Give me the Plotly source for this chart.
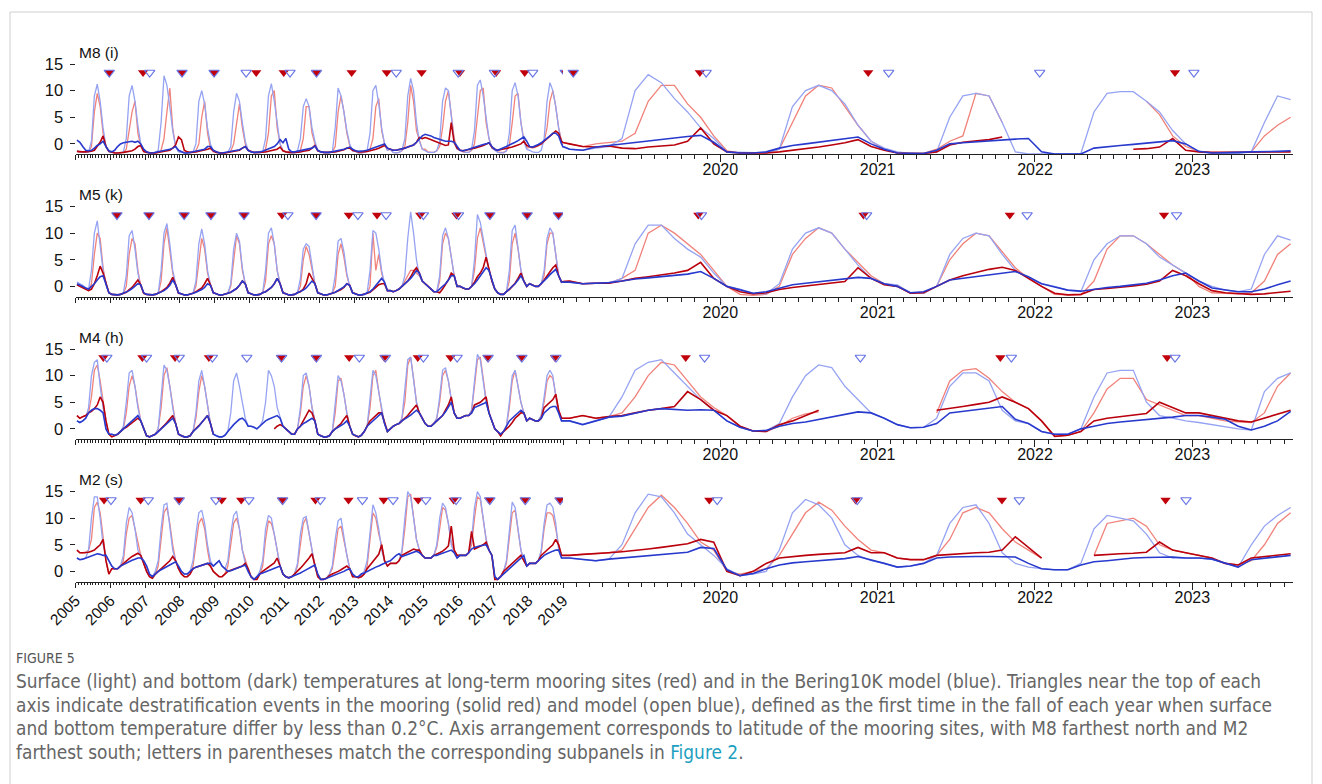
import plotly.graph_objects as go

W, H = 1322, 784
N = None

# ---------------- time axis (monthly, mid-month, Jan 2005 .. Aug 2023) ----------------
months = [2005 + (i + 0.5) / 12 for i in range(224)]

# ---------------- M8 (i) ----------------
m8_mooring_surface = [
    [-1.4,-1.6,-1.6,-1.6,-1.5,-0.5,6,9.5,7,2,-0.5,-1.4],
    [-1.6,-1.7,-1.7,-1.7,-1.6,-1,3,6,8,2,-0.5,-1.5],
    [-1.6,-1.7,-1.7,-1.7,-1.6,-1.2,1,6,10.5,3,-0.5,-1.4],
    [-1.5,-1.7,-1.7,-1.7,-1.6,-1.3,0,5,8,2,-0.8,-1.5],
    [-1.6,-1.7,-1.7,-1.7,-1.6,-1.4,0,4,7.5,3,0,-1.3],
    [-1.5,-1.7,-1.7,-1.7,-1.6,-1,2,9,10,3,0,-1.3],
    [-1.5,-1.7,-1.7,-1.7,-1.6,-1.2,1,7,7,2,0,-1.3],
    [-1.5,-1.7,-1.7,-1.7,-1.5,-0.5,6,9,6,2,-0.3,-1.3],
    [-1.4,-1.7,-1.7,-1.6,-1.4,-1,1,7,8.5,2.5,0,-1.2],
    [-1,-1.6,-1.7,-1.6,-1.3,-0.5,4,11,8,2.5,0.5,-1],
    [-1,-1.5,-1.6,-1.6,-1.3,-0.5,3,8,10,6,1,-0.8],
    [-1.1,-1.5,-1.6,-1.6,-1.2,0,5,10,10.5,4,1,-0.8],
    [-1,-1.5,-1.6,-1.6,-1.3,-0.3,4,9,9.5,4,0.8,-0.8],
    [-0.6,-0.8,-0.6,-0.4,0,0.5,3,8,10,7,3,0.5],
    [0,-0.5,0,0.3,0.5,2,8,11,11,7.5,5,1.5],
    [-1.3,-1.7,-1.7,-1.7,-1,4,9,11,10.5,7,3.5,0.5],
    [-1,-1.7,-1.8,-1.8,-1,0.5,1.5,9.5,9,4,N,N],
    [N,N,N,N,N,N,N,N,8,5.5,1.5,-0.5],
    [-1.4,-1.7,-1.7,-1.7,-1.5,1.5,3.5,5],
]
m8_mooring_bottom = [
    [-1.4,-1.5,-1.5,-1.5,-1.5,-1.4,-1.2,-0.5,0.3,1.5,-0.5,-1.4],
    [-1.6,-1.7,-1.7,-1.7,-1.6,-1.5,-1.4,-1.3,-1,-0.5,-0.3,-1.4],
    [-1.6,-1.7,-1.7,-1.7,-1.6,-1.5,-1.4,-1.3,-1.2,-0.8,-0.2,1.3],
    [0.8,-1.2,-1.5,-1.6,-1.6,-1.5,-1.4,-1.3,-1.2,-1,-0.8,-1.3],
    [-1.6,-1.7,-1.7,-1.7,-1.6,-1.5,-1.4,-1.3,-1.2,-0.8,-0.5,-1.2],
    [-1.4,-1.6,-1.6,-1.6,-1.6,-1.5,-1.4,-1.3,-1.2,-1,-0.6,-1.3],
    [-1.5,-1.6,-1.6,-1.6,-1.6,-1.5,-1.4,-1.3,-1.2,-0.8,-0.3,-1.3],
    [-1.5,-1.6,-1.6,-1.6,-1.6,-1.5,-1.4,-1.3,-1.1,-0.8,-0.8,-1.2],
    [-1.4,-1.5,-1.5,-1.5,-1.4,-1.3,-1.2,-1,-0.8,-0.6,-0.3,-0.8],
    [-1,-1.2,-1.2,-1.1,-1,-0.8,-0.6,-0.4,-0.2,0.3,1.2,1],
    [1.2,1,0.8,0.5,0.3,0.1,-0.1,-0.3,-0.2,4,0.2,-0.8],
    [-1.2,-1.3,-1.2,-1,-0.9,-0.8,-0.7,-0.5,-0.3,-0.1,0.2,-0.6],
    [-1,-1.2,-1.1,-1,-0.9,-0.7,-0.6,-0.4,-0.2,0,0.5,-0.3],
    [-0.5,-0.6,-0.5,-0.3,0,0.5,1,1.5,2,2.4,2,0.5],
    [0,-0.5,-0.6,-0.4,-0.8,-0.9,-0.6,-0.4,-0.2,0.5,3,0],
    [-1.5,-1.7,-1.7,-1.7,-1.5,-1.2,-1,-0.6,-0.2,0.2,0.8,-0.5],
    [-1.2,-1.7,-1.8,-1.8,-1.5,-0.2,0.3,0.6,0.8,1.3,N,N],
    [N,N,N,N,N,N,N,-1,-0.9,-0.6,1,-1.2],
    [-1.5,-1.6,-1.6,-1.6,-1.6,-1.5,-1.5,-1.5],
]
m8_model_surface = [
    [-1.2,-1.5,-1.6,-1.6,-1.5,0.5,9,11.2,8,3,-0.5,-1.5],
    [-1.6,-1.7,-1.7,-1.7,-1.5,1,9,11,8,3.5,0,-1.3],
    [-1.5,-1.7,-1.7,-1.6,-1.2,4,12.8,11,7,2.5,-0.5,-1.5],
    [-1.6,-1.7,-1.7,-1.7,-1.5,0,8,10,7.5,3,0,-1.4],
    [-1.6,-1.7,-1.7,-1.7,-1.6,-0.5,6,9.5,8,4,0.5,-1.2],
    [-1.5,-1.7,-1.7,-1.7,-1.5,1,9,11.3,8,3.5,0,-1.3],
    [-1.5,-1.7,-1.7,-1.7,-1.3,1,7,8.5,7,3,0.5,-1.3],
    [-1.5,-1.7,-1.7,-1.7,-1.5,3,10.5,9,6,2.5,0,-1.3],
    [-1.4,-1.7,-1.7,-1.6,-1.2,2,10,11,7.5,3,0,-1.2],
    [-1,-1.6,-1.7,-1.6,-1.2,1,9,12.3,10,4,0.5,-1],
    [-1.3,-1.6,-1.6,-1.6,-1.3,0.5,8,10.5,10,5,0.5,-1],
    [-1.2,-1.5,-1.6,-1.6,-1,2.5,11,12,9,5,1,-0.8],
    [-1.2,-1.6,-1.7,-1.7,-1.3,2,10,11.5,9,4,0.5,-1],
    [-1.2,-1.5,-1.6,-1.6,-1.2,1,8,11.5,10,7,3,0],
    [-1,-1.2,-0.8,-0.5,1,10,13,11.5,8.5,6,3,1],
    [-1.5,-1.6,-1.7,-1.7,-1,7,10,11,10,7.5,3.5,0.5],
    [-0.8,-1.5,-1.8,-1.8,-1.5,5,9,9.5,9,4,-1.5,-1.9],
    [-1.9,-1.9,-1.9,-1.8,6,9.5,9.8,9.8,8,6,2.5,0],
    [-1.5,-1.8,-1.8,-1.8,-1.5,4,9,8.3],
]
m8_model_bottom = [
    [0.7,0.3,-0.5,-1.2,-1.3,-1.2,-0.8,-0.3,0,0.5,-0.5,-1.3],
    [-1.5,-1.2,-0.5,0,0.2,0.3,0.4,0.5,0.3,0.5,0,-1],
    [-1.5,-1.7,-1.7,-1.6,-1.5,-1.3,-1.2,-1.1,-1,-0.8,-0.5,-1.2],
    [-1.5,-1.7,-1.7,-1.6,-1.5,-1.4,-1.3,-1.2,-1,-0.5,-0.5,-1.2],
    [-1.5,-1.7,-1.7,-1.6,-1.5,-1.4,-1.3,-1.2,-1.1,-0.8,-0.5,-1.2],
    [-1.5,-1.6,-1.6,-1.5,-1.4,-1.2,-1,-0.8,-0.5,0,0.8,0.2],
    [1,-1,-1.5,-1.5,-1.4,-1.3,-1.2,-1.1,-1,-0.8,-0.4,-1.2],
    [-1.5,-1.6,-1.6,-1.6,-1.5,-1.3,-1.2,-1.1,-1,-0.8,-0.6,-1],
    [-1.3,-1.4,-1.4,-1.3,-1.2,-1,-0.8,-0.6,-0.4,-0.2,0,-0.8],
    [-1,-1.2,-1.2,-1.1,-1,-0.8,-0.6,-0.4,-0.2,0.3,1,1.5],
    [1.8,1.7,1.5,1.2,1,0.8,0.6,0.5,0.5,0.5,0.3,-0.5],
    [-1.2,-1.3,-1.2,-1,-0.8,-0.6,-0.5,-0.3,-0.1,0,0.2,-0.5],
    [-1,-1.2,-1,-0.8,-0.5,-0.2,0,0.3,0.6,1,1.3,0.5],
    [-0.5,-0.6,-0.4,-0.1,0.2,0.6,1,1.5,2,2,1.5,0],
    [-1,-1.2,-0.6,-0.3,0,0.3,0.5,0.8,1.1,1.4,1.6,0.3],
    [-1.5,-1.7,-1.7,-1.5,-0.8,-0.3,0,0.3,0.6,0.9,1.3,0],
    [-1,-1.7,-1.8,-1.8,-1.2,0,0.2,0.4,0.6,0.8,0.9,1],
    [-1.5,-1.9,-1.9,-1.9,-0.8,-0.5,-0.3,-0.1,0.1,0.3,0.6,0],
    [-1.4,-1.7,-1.7,-1.6,-1.5,-1.5,-1.4,-1.3],
]
m8_mooring_destrat = [2005.97, 2006.94, 2008.06, 2008.98, 2010.19, 2010.98, 2011.92, 2012.93,
                      2013.94, 2014.94, 2016.04, 2017.08, 2017.90, 2019.065, 2019.87, 2020.94, 2022.89]
m8_model_destrat = [2005.97, 2007.13, 2008.06, 2008.98, 2009.90, 2011.16, 2011.92, 2014.21,
                    2015.99, 2017.03, 2018.13, 2019.065, 2019.91, 2021.07, 2022.03, 2023.01]

# ---------------- M5 (k) ----------------
m5_mooring_surface = [
    [0.3,0,-0.2,-0.5,-0.8,0.5,6,10,9,3.5,0.5,-1.2],
    [-1.5,-1.6,-1.6,-1.5,-1.3,0,6,9,8,3,0,-1.3],
    [-1.5,-1.6,-1.6,-1.5,-1.3,1,8,11,7,2.5,0.3,-1.3],
    [-1.4,-1.6,-1.6,-1.5,-1.3,0,5,9,7,2.5,0.3,-1.2],
    [-1.4,-1.6,-1.6,-1.5,-1.3,0,5,9.5,8,3,0.5,-1.2],
    [-1.4,-1.6,-1.6,-1.5,-1.2,1,8,9.5,8,3,0.5,-1.2],
    [-1.4,-1.6,-1.6,-1.5,-1.2,0,5,7.5,6,3.5,0.5,-1.2],
    [-1.4,-1.6,-1.6,-1.5,-1.2,0,6,8,5.5,2,0,-1.2],
    [-1.4,-1.6,-1.6,-1.5,-1.3,0,10,3,6,2.5,0.5,-0.8],
    [-0.8,-1,-0.8,-0.5,0,1,2,3,3,2.5,2,1],
    [0.5,0,-0.5,-1,-1,1,8,10,9,5,2,0],
    [0,-0.3,-0.5,-0.5,0,3,9,11,8,5.5,3,1],
    [-0.5,-1.2,-1.5,-1.5,-1,1,8,10,7,3,1,0],
    [0.5,0.3,0,0,0.5,2,8,10,10,6,2,0.8],
    [1,0.5,0.6,0.6,1.5,3,10,11.5,10,8,6,3],
    [0,-1.5,-1.7,-1.5,0,6,9,11,10,7,4.5,2],
    [0.5,0,-1.3,-1.3,0,5,8,10,9.5,6.5,3.5,1.5],
    [0,-1.5,-1.6,-1.6,1,7,9.5,9.5,8,6,4,2.5],
    [0,-1.2,-1.3,-1.4,-1.2,1,6,8],
]
m5_mooring_bottom = [
    [0.3,0,-0.2,-0.5,-0.8,-0.5,0.5,2,3.8,2.5,0.5,-1.2],
    [-1.5,-1.6,-1.6,-1.5,-1.3,-1.1,-0.6,-0.2,0.5,1.2,0.3,-1.3],
    [-1.5,-1.6,-1.6,-1.5,-1.3,-1,-0.6,-0.2,0.6,1.7,0.3,-1.3],
    [-1.4,-1.6,-1.6,-1.5,-1.3,-1,-0.7,-0.3,0.5,1.5,0.3,-1.2],
    [-1.4,-1.6,-1.6,-1.5,-1.3,-1.1,-0.8,-0.4,0.2,1,0.5,-1.2],
    [-1.4,-1.6,-1.6,-1.5,-1.2,-1,-0.6,-0.2,0.5,1.5,0.5,-1.2],
    [-1.4,-1.6,-1.6,-1.5,-1.2,-1,-0.5,0.5,2.5,1.5,0.5,-1.2],
    [-1.4,-1.6,-1.6,-1.5,-1.3,-1.1,-0.9,-0.6,-0.2,0.5,0.2,-1.2],
    [-1.4,-1.6,-1.6,-1.5,-1.3,-1.1,-0.7,-0.2,0.3,0.5,0.5,-0.8],
    [-0.8,-1,-0.8,-0.5,0,0.5,1,1.8,2.8,3.5,2.5,1],
    [0.5,0,-0.5,-1,-1,-1.2,-0.5,0.3,1.2,2.5,2,0],
    [0,-0.3,-0.5,-0.5,0,0.8,1.8,2.5,3.5,5.5,3,1],
    [-0.5,-1.2,-1.5,-1.5,-1,-0.6,0,0.6,1.5,2.5,1,0],
    [0.5,0.3,0,0,0.5,1.2,2,2.8,3.5,4,2,0.8],
    [1,0.5,0.6,0.6,1,1.5,1.8,2.1,2.5,3,4.5,1.5],
    [0,-1,-1.4,-1.2,-0.6,-0.2,0.1,0.4,0.6,0.9,3.5,1.5],
    [0.3,0,-1.3,-1.2,0,1.2,2,2.6,3.2,3.6,3,1.5],
    [0,-1.3,-1.6,-1.5,-0.6,-0.4,-0.2,0.1,0.4,1,3,2],
    [0.5,-0.8,-1.2,-1.4,-1.5,-1.4,-1.2,-0.9],
]
m5_model_surface = [
    [0.8,0.5,0.2,-0.3,-0.5,3,10,12.3,8,3,0.5,-1.2],
    [-1.5,-1.6,-1.6,-1.5,-1.2,2,9.5,10.5,7,2.5,0,-1.3],
    [-1.5,-1.6,-1.6,-1.5,-1.3,3,10,11.8,8,3,0.5,-1.2],
    [-1.4,-1.6,-1.6,-1.5,-1.3,1,8,10.8,8,3,0.3,-1.2],
    [-1.4,-1.6,-1.6,-1.5,-1.3,0.5,7,10,8.5,3.5,0.5,-1.2],
    [-1.4,-1.6,-1.6,-1.5,-1.2,3,10,11,8,3,0.5,-1.2],
    [-1.4,-1.6,-1.6,-1.5,-1.2,1.5,7,8,7.5,4,0.5,-1.2],
    [-1.4,-1.6,-1.6,-1.5,-1.2,2,8.5,9,6.5,2.5,0,-1.2],
    [-1.4,-1.6,-1.6,-1.5,-1.2,3,10.5,10,7,3,0.5,-0.8],
    [-0.8,-1,-0.8,-0.5,0,2,9,14,10,5,2,1],
    [0.5,0,-0.5,-1,-1,2,9.5,11,9,5,2,0],
    [0,-0.3,-0.5,-0.5,0,5,13.5,12,9,6,3,1],
    [-0.5,-1.2,-1.5,-1.5,-1,3,10.5,11.5,7,3,1,0],
    [0.5,0.3,0,0,0.5,3,9,11,10,6,2,0.8],
    [0.8,0.5,0.7,0.6,1.5,8,11.5,11.5,9,7,5.5,2.5],
    [0,-0.5,-1.3,-1.4,0.5,7,10,11,10,7,4,1.5],
    [0.5,0.3,-1.2,-1.3,0,6,9,10,9.5,6,3,1.5],
    [0.5,0,-0.7,-1,5,8,9.5,9.5,8,5.5,4,2.5],
    [1,0,-0.7,-1,-0.5,6,9.5,8.7],
]
m5_model_bottom = [
    [0.5,0.3,0,-0.3,-0.5,0,0.5,1.2,1.8,2,0.5,-1.2],
    [-1.5,-1.6,-1.6,-1.5,-1.3,-1.1,-0.8,-0.4,0,0.5,0.3,-1.2],
    [-1.5,-1.6,-1.6,-1.5,-1.3,-1.1,-0.8,-0.4,0.2,1.2,0.3,-1.2],
    [-1.4,-1.6,-1.6,-1.5,-1.3,-1.1,-0.9,-0.6,-0.2,0.5,0.2,-1.2],
    [-1.4,-1.6,-1.6,-1.5,-1.3,-1.1,-0.8,-0.4,0.2,1,0.5,-1.2],
    [-1.4,-1.6,-1.6,-1.5,-1.2,-1,-0.6,-0.2,0.5,1.5,0.5,-1.2],
    [-1.4,-1.6,-1.6,-1.5,-1.2,-1,-0.7,-0.3,0.3,1,0.5,-1.2],
    [-1.4,-1.6,-1.6,-1.5,-1.3,-1.1,-0.8,-0.5,-0.1,0.5,0.2,-1.2],
    [-1.4,-1.6,-1.6,-1.5,-1.2,-1,-0.5,0.2,0.8,1.5,0.8,-0.8],
    [-0.8,-1,-0.8,-0.5,0,0.5,1,1.5,2.2,3,2.5,1],
    [0.5,0,-0.5,-1,-1,-0.5,0,0.5,1.2,2,2,0],
    [0,-0.3,-0.5,-0.5,0,0.5,1.2,2,2.8,3.5,3,1],
    [-0.5,-1.2,-1.5,-1.5,-1,-0.5,0,0.5,1.2,2,1,0],
    [0.5,0.3,0,0,0.5,1,1.6,2.2,2.8,3.2,2,0.8],
    [0.8,0.5,0.6,0.7,1,1.4,1.6,1.8,2,2.3,2.8,1.5],
    [0,-0.7,-1.3,-1,-0.3,0.3,0.6,0.9,1.2,1.5,1.7,1.5],
    [0.5,0,-1.2,-1,0,1.2,1.5,1.8,2.1,2.5,2.8,1.8],
    [0.5,-0.1,-0.7,-0.9,-0.5,-0.2,0,0.3,0.6,1.2,2,2.5],
    [1,-0.3,-0.7,-1,-1,-0.5,0.3,1],
]
m5_mooring_destrat = [2006.19, 2007.11, 2008.12, 2008.89, 2009.84, 2010.93, 2011.91, 2012.85, 2013.66,
                      2014.90, 2015.94, 2016.90, 2017.97, 2018.87, 2019.86, 2020.91, 2021.84, 2022.82]
m5_model_destrat = [2006.19, 2007.11, 2008.12, 2008.89, 2009.84, 2011.10, 2011.91, 2013.11, 2013.92,
                    2014.99, 2016.00, 2016.90, 2017.97, 2018.87, 2019.88, 2020.93, 2021.95, 2022.90]

# ---------------- M4 (h) ----------------
m4_mooring_surface = [
    [2.5,2,2.3,2.5,3,6,11,12,9,5,1.5,-1],
    [-1.5,-1.3,-1,-0.5,0,3,8,10,8,4.5,1.5,0],
    [-1.3,-1.5,-1.3,-1,0,4,10,11.5,8,4,1,-1],
    [-1.3,-1.5,-1.5,-1.3,-0.5,2,7,10,8,4,1,-1],
    [N,N,N,N,N,N,N,N,N,N,N,N],
    [N,N,N,N,N,N,N,N,N,N,N,N],
    [0,-0.5,-1,-1,0,3,8,10,8,4,1.5,-1],
    [-1.3,-1.5,-1.5,-1.3,-0.5,3,9,9.5,6.5,3,0.5,-1],
    [-1.3,-1.5,-1.2,-0.5,0.5,4,10,11,7,3.5,1,-0.5],
    [0,0.5,0.8,1,2,5,12,13.5,9.5,5,3,2],
    [1,0.5,0.5,1,2,5,10,11,9,5.5,3,2],
    [2,2.3,2.5,2.5,3.5,8,13,13.5,9,5.5,3,1.5],
    [0,-0.5,-1.3,-0.5,0.5,4,9,11,8,5,3,1.5],
    [2,1.8,1.5,1.5,2.5,5,9,10,9.5,6.5,3.5,2],
    [2,2.5,2,2.3,3,6,10,12.5,12,9,6,4],
    [2.5,0.5,-0.4,-0.5,0.5,2,2.8,3.2,N,N,N,N],
    [N,N,N,N,3,9,11,11.3,9.5,7,5,3.8],
    [1.5,-1.4,-1.2,-0.5,3,7.5,9.5,9.5,5.5,4.5,3.5,2.5],
    [2.5,2,1.5,1.3,1.2,3,8,10.5],
]
m4_mooring_bottom = [
    [2.5,2,2.3,2.5,3,3.3,3.8,4.5,6,5,1.5,-1],
    [-1.5,-1.3,-1,-0.5,0,0.3,0.7,1.2,1.6,2,1.5,0],
    [-1.3,-1.5,-1.3,-1,-0.5,0,0.6,1.2,1.8,2.5,1,-1],
    [-1.3,-1.5,-1.5,-1.3,-0.5,0,0.6,1.2,1.8,2.5,1,-1],
    [N,N,N,N,N,N,N,N,N,N,N,N],
    [N,N,N,N,N,N,N,N,0,0.5,0.8,0.5],
    [0,-0.5,-1,-1,0,0.5,1.5,2.5,3.5,3,1.5,-1],
    [-1.3,-1.5,-1.5,-1.3,-0.5,0,0.5,1,1.8,2.5,0.5,-1],
    [-1.3,-1.5,-1.2,-0.5,0.5,1.5,2,2.5,3,3,1,-0.5],
    [0,0.5,0.8,1,1.5,2,2.5,3.2,3.8,4.5,3,2],
    [1,0.5,0.5,1,1.5,2,2.5,3.5,4.5,6,3,2],
    [2,2.3,2.5,2.5,3,4.5,4.8,5,5.5,6,3,1.5],
    [0,-0.5,-1.3,-0.5,0,0.5,1.2,2,2.5,3,3,1.5],
    [2,1.8,1.5,1.5,2,4,4.5,5,5.5,6.5,3.5,2],
    [2,2.5,2,2.3,2.5,3,3.5,3.8,4.2,7,5.5,3.5],
    [2.5,0.5,-0.4,-0.5,0.8,1.5,2.5,3.5,N,N,N,N],
    [N,N,N,N,3.5,3.8,4.2,4.6,5,6,5,3.8],
    [1.5,-1.4,-1.2,-0.5,1.5,2,2.3,2.6,2.9,5,4,3],
    [3,2.5,2,1.5,1.3,2,2.8,3.5],
]
m4_model_surface = [
    [1.5,1.2,1.5,2,4,10,12.5,13,8,4,0,-1],
    [-1,-1.2,-1,-0.5,0.5,5,10.5,11,8,4,1.5,0],
    [-1.3,-1.5,-1.3,-1,0,6,12,11,8,4,1,-1],
    [-1.3,-1.5,-1.5,-1.3,-0.5,3,9,11,8,4,1,-1],
    [-1.3,-1.5,-1.5,-1.2,-0.5,3,9,10.5,8,5,2,0.5],
    [0.5,0.3,0,0.5,1.5,5,11,10,8,4,2,0.5],
    [0,-0.5,-1,-1,0,4,10,10.5,8,4,1.5,-1],
    [-1.3,-1.5,-1.5,-1.3,-0.5,5,10,9,6.5,3,0.5,-1],
    [-1.3,-1.5,-1.2,-0.5,0.5,6,11,10,7,3.5,1,-0.5],
    [0,0.5,0.8,1,2,7,13,13.5,9,5,3,2],
    [1,0.5,0.5,1,2,6,11,11.5,9,5.5,3,2],
    [2,2.3,2.5,2.5,3.5,9,14,13,9,5,3,1.5],
    [0,-0.5,-1,-0.5,0.5,5,10,11,8,5,3,1.5],
    [2,1.8,1.5,1.5,2.5,6,10,11,10,6,3,1.5],
    [1.5,0.8,1.5,2.2,6,11,12.5,13,10.5,8,5.5,3.5],
    [1.5,0.3,-0.4,-0.3,1,6,10,12,11.5,8,5.5,3],
    [2,0.8,0.2,0.3,2,8,10.5,10.5,9,3.5,1.5,1],
    [-0.5,-1,-1,0,6,10.5,11,11,5,2.5,2,1.5],
    [1.2,0.8,0.5,0,-0.2,7,9.5,10.5],
]
m4_model_bottom = [
    [1.5,1.2,1.5,2,3,3.5,3.8,3.8,3.5,3,0,-1],
    [-1,-1.2,-1,-0.5,0,0.5,1,1.5,2,2.5,1.5,0],
    [-1.3,-1.5,-1.3,-1,-0.5,0,0.5,1,1.5,2,1,-1],
    [-1.3,-1.5,-1.5,-1.3,-0.5,0,0.5,1.2,1.8,2.5,1,-1],
    [-1.3,-1.5,-1.5,-1.2,-0.5,0.2,0.8,1.3,1.8,2,1.5,0.5],
    [0.5,0.3,0,0.5,1,1.5,1.8,2,2.3,2.5,2,0.5],
    [0,-0.5,-1,-1,0,0.5,1,1.3,1.6,2,1.5,-1],
    [-1.3,-1.5,-1.5,-1.3,-0.5,0,0.3,0.6,1,1.5,0.5,-1],
    [-1.3,-1.5,-1.2,-0.5,0.5,1,1.5,2,2.5,3,1,-0.5],
    [0,0.5,0.8,1,1.5,1.8,2.2,2.6,3,3.5,3,2],
    [1,0.5,0.5,1,1.5,2,2.5,3.2,4,5,3,2],
    [2,2.3,2.5,2.5,3,4,4.3,4.5,4.7,5,3,1.5],
    [0,-0.5,-1,-0.5,0.5,1.5,2,2.5,3,3.5,3,1.5],
    [2,1.8,1.5,1.5,2,3,3.5,4,4.2,4.2,3,1.5],
    [1.5,0.8,1.5,2.2,2.4,3,3.5,3.8,3.6,3.5,3.6,3.5],
    [1.5,0.3,-0.4,-0.3,0.5,1,1.3,1.8,2.2,2.7,3.2,3],
    [2,0.8,0.2,0.3,1,3,3.3,3.6,3.9,4.2,1.8,1],
    [-0.5,-1,-1,0,0.5,1,1.3,1.5,1.8,2,2.2,2.5],
    [2.5,2.2,1.8,0.5,-0.2,0.5,1.5,3.3],
]
m4_mooring_destrat = [2005.80, 2006.92, 2007.86, 2008.83, 2010.90, 2011.90, 2012.86, 2013.87,
                      2014.83, 2015.77, 2016.83, 2017.80, 2018.77, 2019.78, 2021.78, 2022.84]
m4_model_destrat = [2005.90, 2007.04, 2007.98, 2008.93, 2009.92, 2010.92, 2011.92, 2013.15, 2013.90,
                    2014.99, 2015.96, 2016.85, 2017.82, 2018.80, 2019.90, 2020.89, 2021.85, 2022.89]

# ---------------- M2 (s) ----------------
m2_mooring_surface = [
    [4,3.5,3.5,3.5,4,6,12,13,11,6,2,-0.5],
    [0.5,0.5,0.5,1,2,7,10,10.5,8,5,3,1.5],
    [0,-1,-1.3,-0.5,1,6,11,12,9,5,2,0.5],
    [-0.5,-1,-1,-0.5,1,5,9,10,8,4,1,0],
    [-0.5,-1,-1,-0.5,1,5,9,10,8,4,2,0.5],
    [-1,-1.5,-1.5,-0.5,1,6,9.5,9,7,4,1,-0.5],
    [-1,-1.2,-1,-0.5,1,5,9,10,7,3.5,1,-1],
    [-1.5,-1.5,-1.3,-0.5,0.5,4,8,8.5,6,3,0.5,-1],
    [-1,-1.2,-1,-0.5,1,6,11,10,7,5,2,1],
    [1.5,1.5,1.5,2,3.5,8,14,14.5,10,6,4,3],
    [2.5,2.5,2.5,3,4.5,8,12,11.5,9,5.5,4,3],
    [3,3,3,3.5,5,10,14,13.5,10,6,4,3],
    [-1.5,-1.5,-1,0,1.5,6,11,11.5,8,4,2,1],
    [1.5,1.5,1.5,2,3.5,8,11,11,10.5,8,5,3],
    [3,3.2,3.3,3.5,4,8,12,14.3,12,9,5.5,4],
    [0,-0.5,0,0.5,3,7,11,13,11.5,8.5,6,4],
    [3.5,2.5,2.2,2.2,3,6,11,12,11,8,5.5,4],
    [2.5,N,N,N,3,9,9.5,10,8.5,5,4,3.5],
    [3,2.5,1.5,1.2,2,5,9,11],
]
m2_mooring_bottom = [
    [4,3.5,3.5,3.5,3.6,3.8,4,4.5,5,6,2,-0.5],
    [0.5,0.5,0.5,1,1.5,2,2.4,2.8,3.1,3.4,3,1.5],
    [0,-1,-1.3,-0.5,0,0.5,1,1.5,2,2.8,2,0.5],
    [-0.5,-1,-1,-0.5,0.5,0.8,1,1.2,1.4,1.5,1,0],
    [-0.5,-1,-1,-0.5,0,0.2,0.4,0.6,0.8,1,1.5,0.5],
    [-1,-1.5,-1.5,-0.5,0,0.4,0.8,1.2,1.6,2.5,1,-0.5],
    [-1,-1.2,-1,-0.5,0,0.6,1.2,1.8,2.5,3.3,1,-1],
    [-1.5,-1.5,-1.3,-0.8,-0.5,-0.3,0,0.3,0.6,1,0.5,-1],
    [-1,-1.2,-1,-0.5,0.5,1.2,1.8,2.5,3.2,5,2,1],
    [1.5,1.5,1.5,2,3,3.3,3.6,3.9,4.2,4,4,3],
    [2.5,2.5,2.5,3,3.2,3.5,3.8,4.2,4.8,8.5,4,3],
    [3,3,3,3.5,7.5,4.2,4.5,4.8,5,5.5,4,3],
    [-1.5,-1.5,-1,0,0.5,1,1.5,2,2.5,3,2,1],
    [1.5,1.5,1.5,2,3,3.5,4,4.5,5,6,5,3],
    [3,3.2,3.3,3.5,3.7,3.9,4.2,4.5,4.8,5.2,6,5.5],
    [0,-0.8,0,1.5,2.5,2.8,3,3.2,3.3,3.5,4.5,3.5],
    [3.5,2.5,2.2,2.2,3,3.2,3.4,3.5,3.6,4,6.5,4.5],
    [2.5,N,N,N,3,3.2,3.3,3.4,3.6,5.5,4,3.5],
    [3,2.5,1.5,1.2,2.5,2.8,3,3.3],
]
m2_model_surface = [
    [2.5,2.2,2.3,2.5,4,10,14,14,10,5,3,2],
    [1,0.5,0.5,1,3,9,12,11,8,4,3,2],
    [1,-0.5,-1,0,2,8,12.5,12.8,8,4,2,1],
    [0,-0.5,-0.5,0,2,7,11,11.5,9,5,2,1],
    [1.5,2,1,0.5,2,7,10.5,11.3,8,4,1.5,0],
    [-1,-1.5,-1,0,2,8,10.5,10,7,4,1,-0.5],
    [-1,-1.2,-1,-0.5,1.5,7,10,10.3,7,3.5,1,-0.5],
    [-1.5,-1.5,-1.3,-0.5,1,6,9.5,10,6,3,0.5,-0.5],
    [-1,-1,-0.5,0,2,8,12.5,11,8,4,2,1],
    [1.5,1.5,1.5,2,4,10,15,14,10,6,4,3],
    [2.5,2.5,2.5,3,5,10,12.8,12,9,5,3.5,2.5],
    [3,3,3,3.5,6,12,15,14,10,6,4,3],
    [-1,-1.5,-1,0,2,8,13,12,8,4,2,1],
    [1.5,1.5,1.5,2,4,9,12.5,12.8,12,9,4,2.5],
    [2.5,2.2,2,2.3,5,11,14.5,14,11,7,5,3],
    [0.5,-0.8,-0.5,0,4,11,13.5,12.5,10,5,3,2],
    [1.5,0.8,1,1.5,3,9,12,12.5,9,3.5,1.5,0.8],
    [0.5,0.3,0.3,1.5,8,10.5,10,9.5,7,3.5,2.5,2.5],
    [2.5,2.3,1.5,0.8,5,8.5,10.5,12],
]
m2_model_bottom = [
    [2.5,2.2,2.3,2.5,2.8,3,3.2,3.3,3.2,3,3,2],
    [1,0.5,0.5,1,1.3,1.6,1.9,2.1,2.3,2.5,2.5,2],
    [1,-0.5,-1,-0.5,0,0.3,0.6,0.9,1.2,1.6,1.8,1],
    [0,-0.5,-0.5,0,0.5,0.8,1,1.2,1.4,1.5,1.5,1],
    [1.5,2,1,0.5,0,0.1,0.3,0.5,0.8,1,1.2,0],
    [-1,-1.5,-1,-0.5,-0.3,-0.1,0.1,0.3,0.5,0.8,1,-0.5],
    [-1,-1.2,-1,-0.8,-0.5,-0.3,0,0.3,0.6,1,1.2,-0.5],
    [-1.5,-1.5,-1.3,-1,-0.8,-0.6,-0.4,-0.2,0,0.3,0.5,-0.5],
    [-1,-1,-0.5,-0.3,0,0.3,0.5,0.8,1,1.3,1.5,1.8],
    [2,2.5,3,3.3,2.8,3,3.2,3.4,3.6,3.8,3.5,3],
    [2.5,2.5,2.5,3,3,3.2,3.4,3.6,3.8,4,3.5,2.5],
    [3,3,3,3.5,4.2,4.5,4.7,4.8,4.9,5,4,3],
    [-1,-1.5,-1,-0.5,0,0.5,1,1.5,2,2.5,3,1],
    [1.5,1.5,1.5,2,2.5,3,3.3,3.6,3.8,4,4,2.5],
    [2.5,2.2,2,2.3,2.5,2.7,2.9,3.1,3.3,3.6,4.5,4.3],
    [0.3,-0.8,-0.4,0.5,1.2,1.6,1.8,2,2.2,2.4,2.8,2.2],
    [1.5,0.8,1,1.5,2.5,2.7,2.8,2.8,2.8,2.8,2.7,1.5],
    [0.5,0.3,0.3,1.2,1.8,2,2.3,2.5,2.6,2.7,2.7,2.5],
    [2.5,2.3,1.5,0.8,2.2,2.5,2.8,3],
]
m2_mooring_destrat = [2005.82, 2006.87, 2007.96, 2009.20, 2009.76, 2010.93, 2011.89, 2012.84, 2013.85,
                      2014.84, 2015.86, 2016.88, 2017.90, 2018.90, 2019.93, 2020.86, 2021.79, 2022.83]
m2_model_destrat = [2006.02, 2007.09, 2007.98, 2009.03, 2009.98, 2010.95, 2012.03, 2013.24, 2014.12,
                    2015.06, 2015.93, 2016.90, 2017.92, 2018.92, 2019.98, 2020.87, 2021.90, 2022.96]

row_labels = ["M8 (i)", "M5 (k)", "M4 (h)", "M2 (s)"]
left_years = list(range(2005, 2020))
right_years = [2020, 2021, 2022, 2023]
yticks = [0, 5, 10, 15]

caption_title = "FIGURE 5"
caption_lines = [
    "Surface (light) and bottom (dark) temperatures at long-term mooring sites (red) and in the Bering10K model (blue). Triangles near the top of each",
    "axis indicate destratification events in the mooring (solid red) and model (open blue), defined as the first time in the fall of each year when surface",
    "and bottom temperature differ by less than 0.2°C. Axis arrangement corresponds to latitude of the mooring sites, with M8 farthest north and M2",
    "farthest south; letters in parentheses match the corresponding subpanels in <span style='color:#1c9fc0'>Figure 2</span>.",
]


def flat(rows):
    out = [v for row in rows for v in row]
    if len(out) != len(months):
        raise ValueError("series length %d" % len(out))
    return out


rows = [
    (m8_mooring_surface, m8_model_surface, m8_mooring_bottom, m8_model_bottom, m8_mooring_destrat, m8_model_destrat),
    (m5_mooring_surface, m5_model_surface, m5_mooring_bottom, m5_model_bottom, m5_mooring_destrat, m5_model_destrat),
    (m4_mooring_surface, m4_model_surface, m4_mooring_bottom, m4_model_bottom, m4_mooring_destrat, m4_model_destrat),
    (m2_mooring_surface, m2_model_surface, m2_mooring_bottom, m2_model_bottom, m2_mooring_destrat, m2_model_destrat),
]

C_LRED = "rgb(240,130,122)"
C_LBLUE = "rgb(150,163,242)"
C_DRED = "rgb(185,0,12)"
C_DBLUE = "rgb(40,58,205)"
C_TRI_RED = "rgb(192,0,10)"
C_TRI_BLUE = "rgb(105,118,230)"
TRI_Y = 13.4

FONT = "Liberation Sans, Arial, Helvetica, sans-serif"
CAP_FONT = "DejaVu Sans Condensed, Liberation Sans Narrow, sans-serif"

# the page body adds an 8 px offset; compensate so marks land on the intended pixels
OFF = 8

def pxx(p):
    return (p - OFF) / W

def pxy(p):
    return 1 - (p - OFF) / H

XL0, XMID, XR1 = 75.5, 563.0, 1293.0
row_tops = [64, 206.5, 349, 491.5]
YMIN, YMAX = -1.9, 15.3
PLOT_H = 90.0
top_pad = (YMAX - 15) * PLOT_H / (15 - YMIN)

fig = go.Figure()
layout = dict(
    width=W, height=H, autosize=False,
    margin=dict(l=0, r=0, t=0, b=0, pad=0, autoexpand=False),
    paper_bgcolor="white", plot_bgcolor="white", showlegend=False,
    font=dict(family=FONT, size=16, color="#111"),
)

month_ticks_left = [2005 + k / 12 for k in range(0, 14 * 12 + 1)]
month_ticks_right = [2019 + k / 12 for k in range(0, 56)]

annotations = []
for r, (ss, ms, sb, mb, mdes, odes) in enumerate(rows):
    T = row_tops[r]
    ydom = [pxy(T + PLOT_H), pxy(T - top_pad)]
    il, ir = 2 * r + 1, 2 * r + 2
    sfx_l = "" if il == 1 else str(il)
    sfx_r = str(ir)
    series = [(flat(ss), C_LRED, 1.3), (flat(ms), C_LBLUE, 1.3),
              (flat(sb), C_DRED, 1.6), (flat(mb), C_DBLUE, 1.6)]
    for xs, ys in (("x" + sfx_l, "y" + sfx_l), ("x" + sfx_r, "y" + sfx_r)):
        for vals, col, w in series:
            fig.add_trace(go.Scatter(x=months, y=vals, mode="lines", xaxis=xs, yaxis=ys,
                                     line=dict(color=col, width=w), hoverinfo="skip"))
        fig.add_trace(go.Scatter(x=mdes, y=[TRI_Y] * len(mdes), mode="markers", xaxis=xs, yaxis=ys,
                                 marker=dict(symbol="triangle-down", size=9, color=C_TRI_RED,
                                             line=dict(width=0)), hoverinfo="skip"))
        fig.add_trace(go.Scatter(x=odes, y=[TRI_Y] * len(odes), mode="markers", xaxis=xs, yaxis=ys,
                                 marker=dict(symbol="triangle-down-open", size=9, color=C_TRI_BLUE,
                                             line=dict(width=1.2)), hoverinfo="skip"))

    common_x = dict(showline=True, linecolor="#222", linewidth=1, ticks="outside", tickcolor="#222",
                    tickwidth=1, showgrid=False, zeroline=False, fixedrange=True, automargin=False)
    layout["xaxis" + sfx_l] = dict(
        common_x, domain=[pxx(XL0), pxx(XMID)], range=[2005, 2019], anchor="y" + sfx_l,
        tickmode="array", tickvals=left_years, ticktext=[str(y) for y in left_years],
        ticklen=5, showticklabels=(r == 3), tickangle=-45, tickfont=dict(size=15.5, color="#111"),
        ticklabelstandoff=-2,
        minor=dict(ticks="outside", ticklen=2.5, tickcolor="#222", tickmode="array",
                   tickvals=month_ticks_left),
    )
    layout["xaxis" + sfx_r] = dict(
        common_x, domain=[pxx(XMID), pxx(XR1)], range=[2019, 2023.64], anchor="y" + sfx_r,
        tickmode="array", tickvals=right_years, ticktext=[str(y) for y in right_years],
        ticklen=7, showticklabels=True, tickfont=dict(size=16, color="#111"),
        ticklabelstandoff=-6,
        minor=dict(ticks="outside", ticklen=4, tickcolor="#222", tickmode="array",
                   tickvals=month_ticks_right),
    )
    layout["yaxis" + sfx_l] = dict(
        domain=ydom, range=[YMIN, YMAX], anchor="x" + sfx_l, tickmode="array", tickvals=yticks,
        ticks="outside", ticklen=5, tickcolor="#222", showline=False, showgrid=False,
        zeroline=False, tickfont=dict(size=16.5, color="#111"), fixedrange=True, automargin=False,
        ticklabelstandoff=3,
    )
    layout["yaxis" + sfx_r] = dict(domain=ydom, range=[YMIN, YMAX], anchor="x" + sfx_r,
                                   visible=False, fixedrange=True, automargin=False)
    annotations.append(dict(text=row_labels[r], x=pxx(77), y=pxy(T - 12), xref="paper", yref="paper",
                            xanchor="left", yanchor="middle", showarrow=False,
                            font=dict(size=15.5, color="#111", family=FONT)))

annotations.append(dict(text=caption_title, x=pxx(14), y=pxy(658), xref="paper", yref="paper",
                        xanchor="left", yanchor="middle", showarrow=False,
                        font=dict(size=14, color="#555", family=CAP_FONT)))
for i, line in enumerate(caption_lines):
    annotations.append(dict(text=line, x=pxx(14), y=pxy(681 + 23.5 * i), xref="paper", yref="paper",
                            xanchor="left", yanchor="middle", showarrow=False,
                            font=dict(size=18.9, color="#666", family=CAP_FONT)))

layout["annotations"] = annotations
layout["shapes"] = [dict(type="rect", xref="paper", yref="paper", x0=pxx(10), x1=pxx(1312),
                         y0=pxy(800), y1=pxy(12), line=dict(color="#cfcfcf", width=1),
                         fillcolor="rgba(0,0,0,0)", layer="below")]
fig.update_layout(**layout)
fig.write_html("out.html")
